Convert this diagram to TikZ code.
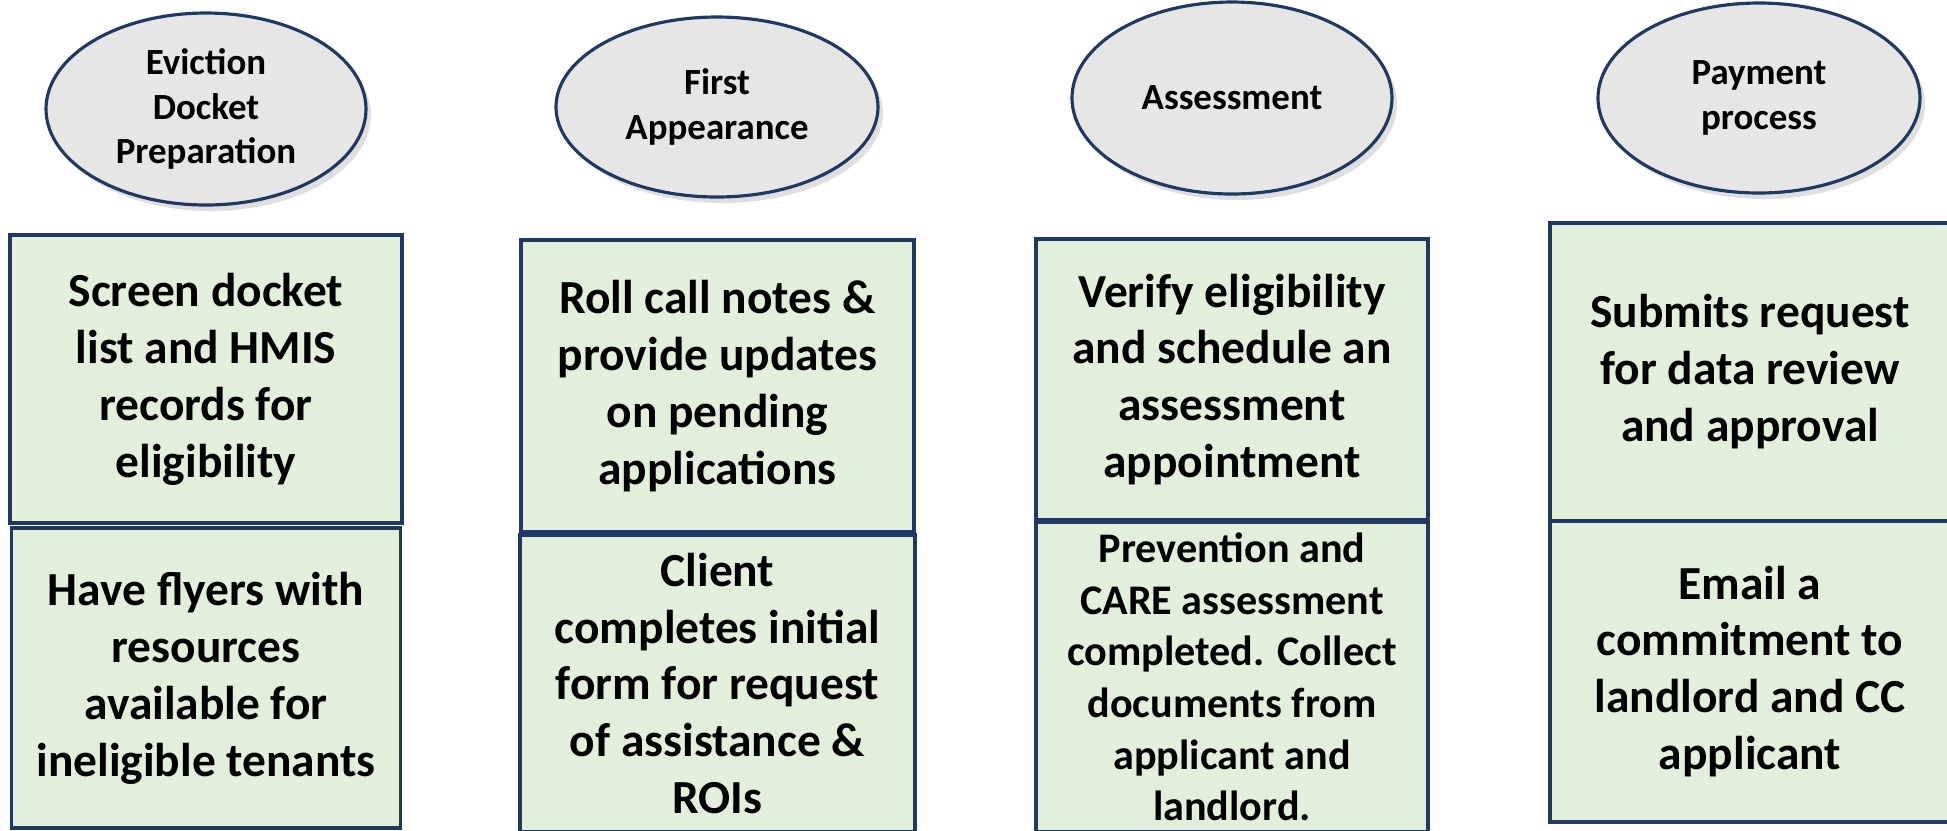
\documentclass[tikz,border=0pt]{standalone}
\usepackage{fontspec}
\setmainfont{Carlito}
\usetikzlibrary{positioning,shapes.geometric,shadows}
\definecolor{navy}{HTML}{1F3864}
\definecolor{taskgreen}{HTML}{E2EFDA}
\definecolor{phasegray}{HTML}{E7E6E6}

\begin{document}
\begin{tikzpicture}[phase/.style = {ellipse, draw=navy, line width=0.9pt,
        fill=phasegray, align=center, inner sep=0pt, outer sep=0pt,
        font=\fontsize{10.5}{12.6}\selectfont\bfseries,
        drop shadow={opacity=0.25, shadow xshift=0.05cm, shadow yshift=-0.06cm}},
      task/.style = {rectangle, draw=navy, line width=0.9pt, fill=taskgreen,
        align=center, inner sep=0pt, outer sep=0pt,
        font=\fontsize{13.5}{16.2}\selectfont\bfseries}]
      \useasboundingbox (0,0) rectangle (19.47,-8.30);
      \node[phase, minimum width=3.20cm, minimum height=1.92cm] (evict) at (2.06,-1.09) {Eviction\\Docket\\Preparation};
      \node[phase, minimum width=3.22cm, minimum height=1.80cm] (first) at (7.17,-1.07) {First\\Appearance};
      \node[phase, minimum width=3.20cm, minimum height=1.92cm] (assess) at (12.32,-0.98) {Assessment};
      \node[phase, minimum width=3.22cm, minimum height=1.90cm] (pay) at (17.59,-0.98) {Payment\\process};
      \node[task, minimum width=3.92cm, minimum height=2.88cm] (evict1) at (2.06,-3.79) {Screen docket\\list and HMIS\\records for\\eligibility};
      \node[below = 0.05cm of evict1, task, minimum width=3.89cm,
      minimum height=3.00cm] (evict2) {Have flyers with\\resources\\available for\\ineligible tenants};
      \node[task, minimum width=3.93cm, minimum height=2.92cm] (first1) at (7.175,-3.86) {Roll call notes \&\\provide updates\\on pending\\applications};
      \node[below = 0.03cm of first1, task, minimum width=3.95cm,
      minimum height=2.97cm] (first2) {Client\\completes initial\\form for request\\of assistance \&\\ROIs};
      \node[task, minimum width=3.92cm, minimum height=2.81cm] (assess1) at (12.32,-3.795) {Verify eligibility\\and schedule an\\assessment\\appointment};
      \node[below = 0.02cm of assess1, task, minimum width=3.92cm,
      minimum height=3.10cm, font=\fontsize{12}{14.7}\selectfont\bfseries] (assess2) {Prevention and\\CARE assessment\\completed. Collect\\documents from\\applicant and\\landlord.};
      \node[task, minimum width=4.00cm, minimum height=2.98cm] (pay1) at (17.50,-3.72) {Submits request\\for data review\\and approval};
      \node[below = 0cm of pay1, task, minimum width=4.00cm,
      minimum height=3.01cm] (pay2) {Email a\\commitment to\\landlord and CC\\applicant};
    \end{tikzpicture}
\end{document}
